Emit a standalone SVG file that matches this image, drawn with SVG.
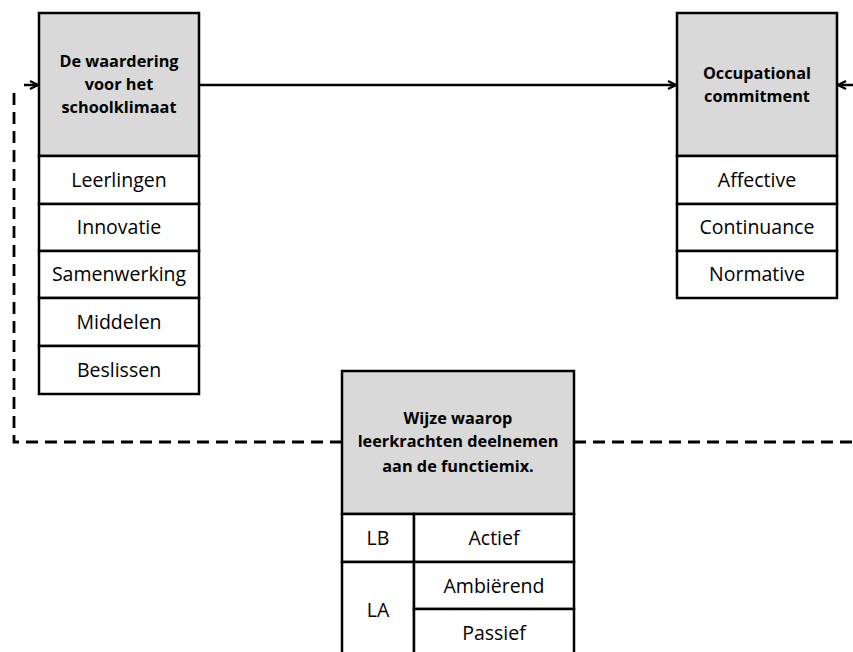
<svg xmlns="http://www.w3.org/2000/svg" width="853" height="652" viewBox="0 0 853 652">
<style>
.hdr{fill:#d9d9d9;stroke:#000;stroke-width:2.5}
.cell{fill:#fff;stroke:#000;stroke-width:2.5}
.t{font-family:"Open Sans","Liberation Sans",sans-serif;font-size:19.5px;fill:#000;text-anchor:middle}
.b{font-family:"Open Sans","Liberation Sans",sans-serif;font-size:16.3px;font-weight:bold;fill:#000;text-anchor:middle}
.solid{fill:none;stroke:#000;stroke-width:2.5}
.dash{fill:none;stroke:#000;stroke-width:2.8;stroke-dasharray:12 7}
</style>
<defs>
<marker id="arr" viewBox="0 0 10 10" refX="9" refY="5" markerWidth="10" markerHeight="10" markerUnits="userSpaceOnUse" orient="auto">
<path d="M1,1 L9,5 L1,9" fill="none" stroke="#000" stroke-width="2.2"/>
</marker>
</defs>
<g id="connectors">
<line class="solid" x1="199" y1="85" x2="676" y2="85" marker-end="url(#arr)"/>
<line class="solid" x1="853" y1="85" x2="838" y2="85" marker-end="url(#arr)"/>
<path class="dash" d="M342,442 H14 V86"/>
<line class="solid" x1="24" y1="85" x2="38" y2="85" marker-end="url(#arr)"/>
<path class="dash" d="M574,442 H853"/>
</g>
<g id="schoolklimaat">
<rect class="hdr" x="39" y="13" width="160" height="143"/>
<text class="b" x="119" y="67">De waardering</text>
<text class="b" x="119" y="90">voor het</text>
<text class="b" x="119" y="113">schoolklimaat</text>
<rect class="cell" x="39" y="156" width="160" height="48"/>
<text class="t" x="119" y="187">Leerlingen</text>
<rect class="cell" x="39" y="204" width="160" height="47"/>
<text class="t" x="119" y="234">Innovatie</text>
<rect class="cell" x="39" y="251" width="160" height="47"/>
<text class="t" x="119" y="281">Samenwerking</text>
<rect class="cell" x="39" y="298" width="160" height="48"/>
<text class="t" x="119" y="329">Middelen</text>
<rect class="cell" x="39" y="346" width="160" height="48"/>
<text class="t" x="119" y="377">Beslissen</text>
</g>
<g id="commitment">
<rect class="hdr" x="677" y="13" width="160" height="143"/>
<text class="b" x="757" y="79">Occupational</text>
<text class="b" x="757" y="102">commitment</text>
<rect class="cell" x="677" y="156" width="160" height="48"/>
<text class="t" x="757" y="187">Affective</text>
<rect class="cell" x="677" y="204" width="160" height="47"/>
<text class="t" x="757" y="234">Continuance</text>
<rect class="cell" x="677" y="251" width="160" height="47"/>
<text class="t" x="757" y="281">Normative</text>
</g>
<g id="functiemix">
<rect class="hdr" x="342" y="371" width="232" height="143"/>
<text class="b" x="458" y="424">Wijze waarop</text>
<text class="b" x="458" y="447">leerkrachten deelnemen</text>
<text class="b" x="458" y="472">aan de functiemix.</text>
<rect class="cell" x="342" y="514" width="72" height="48"/>
<text class="t" x="378" y="545">LB</text>
<rect class="cell" x="414" y="514" width="160" height="48"/>
<text class="t" x="494" y="545">Actief</text>
<rect class="cell" x="342" y="562" width="72" height="96"/>
<text class="t" x="378" y="617">LA</text>
<rect class="cell" x="414" y="562" width="160" height="47"/>
<text class="t" x="494" y="593">Ambiërend</text>
<rect class="cell" x="414" y="609" width="160" height="49"/>
<text class="t" x="494" y="640">Passief</text>
</g>
</svg>
